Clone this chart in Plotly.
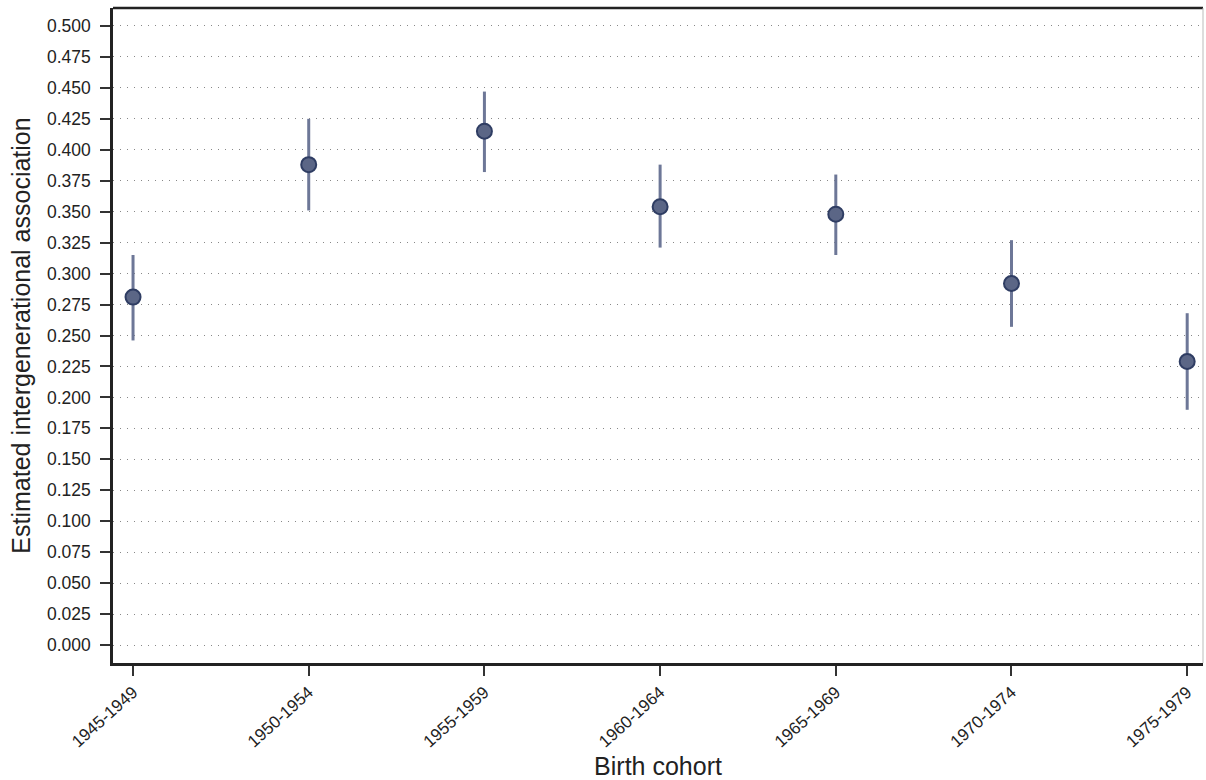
import plotly.graph_objects as go

cohorts = ["1945-1949", "1950-1954", "1955-1959", "1960-1964", "1965-1969", "1970-1974", "1975-1979"]
estimate = [0.281, 0.388, 0.415, 0.354, 0.348, 0.292, 0.229]
ci_upper = [0.315, 0.425, 0.447, 0.388, 0.380, 0.327, 0.268]
ci_lower = [0.246, 0.351, 0.382, 0.321, 0.315, 0.257, 0.190]

y_ticks = [i * 0.025 for i in range(21)]

err_plus = [u - e for u, e in zip(ci_upper, estimate)]
err_minus = [e - l for e, l in zip(estimate, ci_lower)]
xs = list(range(len(cohorts)))

fig = go.Figure()
fig.add_trace(go.Scatter(
    x=xs, y=estimate, mode="markers",
    marker=dict(size=15, color="#5b6686", line=dict(color="#2f3d63", width=2)),
    error_y=dict(type="data", symmetric=False, array=err_plus, arrayminus=err_minus,
                 color="#6d7797", thickness=3, width=0),
    showlegend=False,
))

fig.update_layout(
    width=1206, height=780,
    margin=dict(l=113, r=3, t=8, b=117),
    plot_bgcolor="white", paper_bgcolor="white",
    font=dict(family="Liberation Sans, Arial, sans-serif", color="#222"),
)
fig.update_xaxes(
    range=[-0.114, 6.09], tickmode="array", tickvals=xs, ticktext=cohorts,
    tickangle=-42, tickfont=dict(size=17), ticks="outside", ticklen=10, tickwidth=2,
    tickcolor="#333", showline=True, linecolor="#222", linewidth=2.5, showgrid=False,
    zeroline=False, automargin=False,
    title=dict(text="Birth cohort", font=dict(size=25), standoff=8),
)
fig.update_yaxes(
    range=[-0.0145, 0.5145], tickmode="array", tickvals=y_ticks,
    ticktext=[f"{v:.3f}" for v in y_ticks], tickfont=dict(size=17.5),
    ticks="outside", ticklen=10, tickwidth=2, tickcolor="#333", ticklabelstandoff=6,
    showline=True, linecolor="#222", linewidth=2.5, automargin=False,
    showgrid=True, gridcolor="#888", gridwidth=1, griddash="1px,6px", zeroline=False,
    title=dict(text="Estimated intergenerational association", font=dict(size=25), standoff=10),
)
fig.add_shape(type="line", xref="paper", yref="paper", x0=0, x1=1, y0=1, y1=1,
              line=dict(color="#222", width=2.5))
fig.add_shape(type="line", xref="paper", yref="paper", x0=1, x1=1, y0=0, y1=1,
              line=dict(color="#bbb", width=1))

fig.write_html("out.html", config={"displayModeBar": False},
               post_script="document.body.style.margin='0';document.body.style.overflow='hidden';")
